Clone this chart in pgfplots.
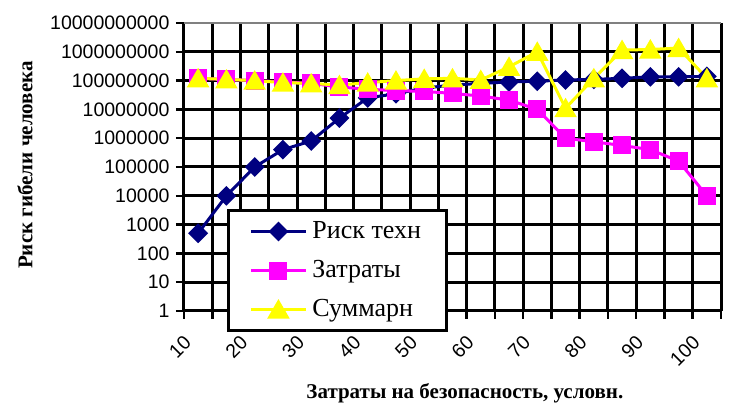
\documentclass[border=0pt]{standalone}
\usepackage{fontspec}
\setmainfont{Liberation Serif}
\newfontfamily\arial{Liberation Sans}
\usepackage{pgfplots}
\pgfplotsset{compat=1.18}
\definecolor{navyc}{RGB}{0,0,128}
\definecolor{magc}{RGB}{255,0,255}
\definecolor{yelc}{RGB}{255,255,0}
\begin{document}
\begin{tikzpicture}
\useasboundingbox (0,0) rectangle (739pt,406pt);
\begin{axis}[
  at={(184pt,95pt)}, anchor=south west,
  scale only axis, width=537pt, height=288pt,
  xmin=-0.5, xmax=18.5, ymode=log, ymin=1, ymax=1e10,
  yminorticks=false, xminorticks=false,
  xtick={-0.5,0.5,...,18.5}, xticklabels={,,,,,,,,,,,,,,,,,,,,,},
  ytick={1,10,100,1000,10000,100000,1000000,10000000,100000000,1000000000},
  yticklabels={1,10,100,1000,10000,100000,1000000,10000000,100000000,1000000000},
  yticklabel style={xshift=-3pt},
  extra y ticks={1e10}, extra y tick labels={10000000000},
  extra y tick style={grid style={black!50, line width=2pt}},
  extra x ticks={0,2,4,6,8,10,12,14,16,18},
  extra x tick labels={10,20,30,40,50,60,70,80,90,100},
  extra x tick style={grid=none, major tick length=0pt, xticklabel style={xshift=-8pt, yshift=-26pt, rotate=45, anchor=east}},
  grid=major, grid style={black, line width=3pt},
  tick pos=left, tick align=outside, major tick length=8pt,
  tick style={black, line width=2.5pt},
  axis line style={draw=none},
  ticklabel style={font=\arial\fontsize{19.5}{22}\selectfont},
  xlabel={Затраты на безопасность, условн.},
  xlabel style={at={(axis description cs:0.523,-0.285)}, anchor=center, font=\bfseries\fontsize{21}{24}\selectfont},
  ylabel={Риск гибели человека},
  ylabel style={at={(axis description cs:-0.296,0.507)}, anchor=center, font=\bfseries\fontsize{21}{24}\selectfont},
  legend style={at={(0.080,0.354)}, anchor=north west, draw=black, line width=3pt, fill=white,
    font=\fontsize{26}{30}\selectfont, cells={anchor=west},
    nodes={text height=18pt, text depth=5pt, inner ysep=2.5pt, inner xsep=5pt},
    row sep=11pt, inner ysep=7pt, inner xsep=21pt},
  legend image code/.code={\draw[#1, mark repeat=2, mark phase=2] plot coordinates {(0pt,0pt) (27.5pt,0pt) (55pt,0pt)};},
]
\addplot[navyc, line width=3pt, mark=square*, mark size=5.5pt, mark options={rotate=45, solid, fill=navyc}] coordinates {
(0,500) (1,1e4) (2,1e5) (3,4e5) (4,8e5) (5,5e6) (6,2.5e7) (7,3.5e7) (8,5.5e7) (9,7e7)
(10,8e7) (11,9e7) (12,9.5e7) (13,1.05e8) (14,1.1e8) (15,1.2e8) (16,1.35e8) (17,1.35e8) (18,1.4e8)};
\addlegendentry{Риск техн}
\addplot[magc, line width=3pt, mark=square*, mark size=7.5pt, mark options={solid, fill=magc}] coordinates {
(0,1.2e8) (1,1.1e8) (2,1e8) (3,9e7) (4,8e7) (5,6e7) (6,5e7) (7,4.5e7) (8,4.2e7) (9,3.6e7)
(10,2.9e7) (11,2.1e7) (12,1e7) (13,1e6) (14,7.5e5) (15,5.6e5) (16,4e5) (17,1.6e5) (18,1e4)};
\addlegendentry{Затраты}
\addplot[yelc, line width=3pt, mark=triangle*, mark size=10pt, mark options={solid, fill=yelc, yshift=-2.5pt}] coordinates {
(0,1.2e8) (1,1.1e8) (2,1e8) (3,8.5e7) (4,8e7) (5,7e7) (6,8.5e7) (7,1e8) (8,1.15e8) (9,1.2e8)
(10,1.05e8) (11,3e8) (12,1e9) (13,1.1e7) (14,1.2e8) (15,1.15e9) (16,1.2e9) (17,1.35e9) (18,1.2e8)};
\addlegendentry{Суммарн}
\end{axis}
\end{tikzpicture}
\end{document}
